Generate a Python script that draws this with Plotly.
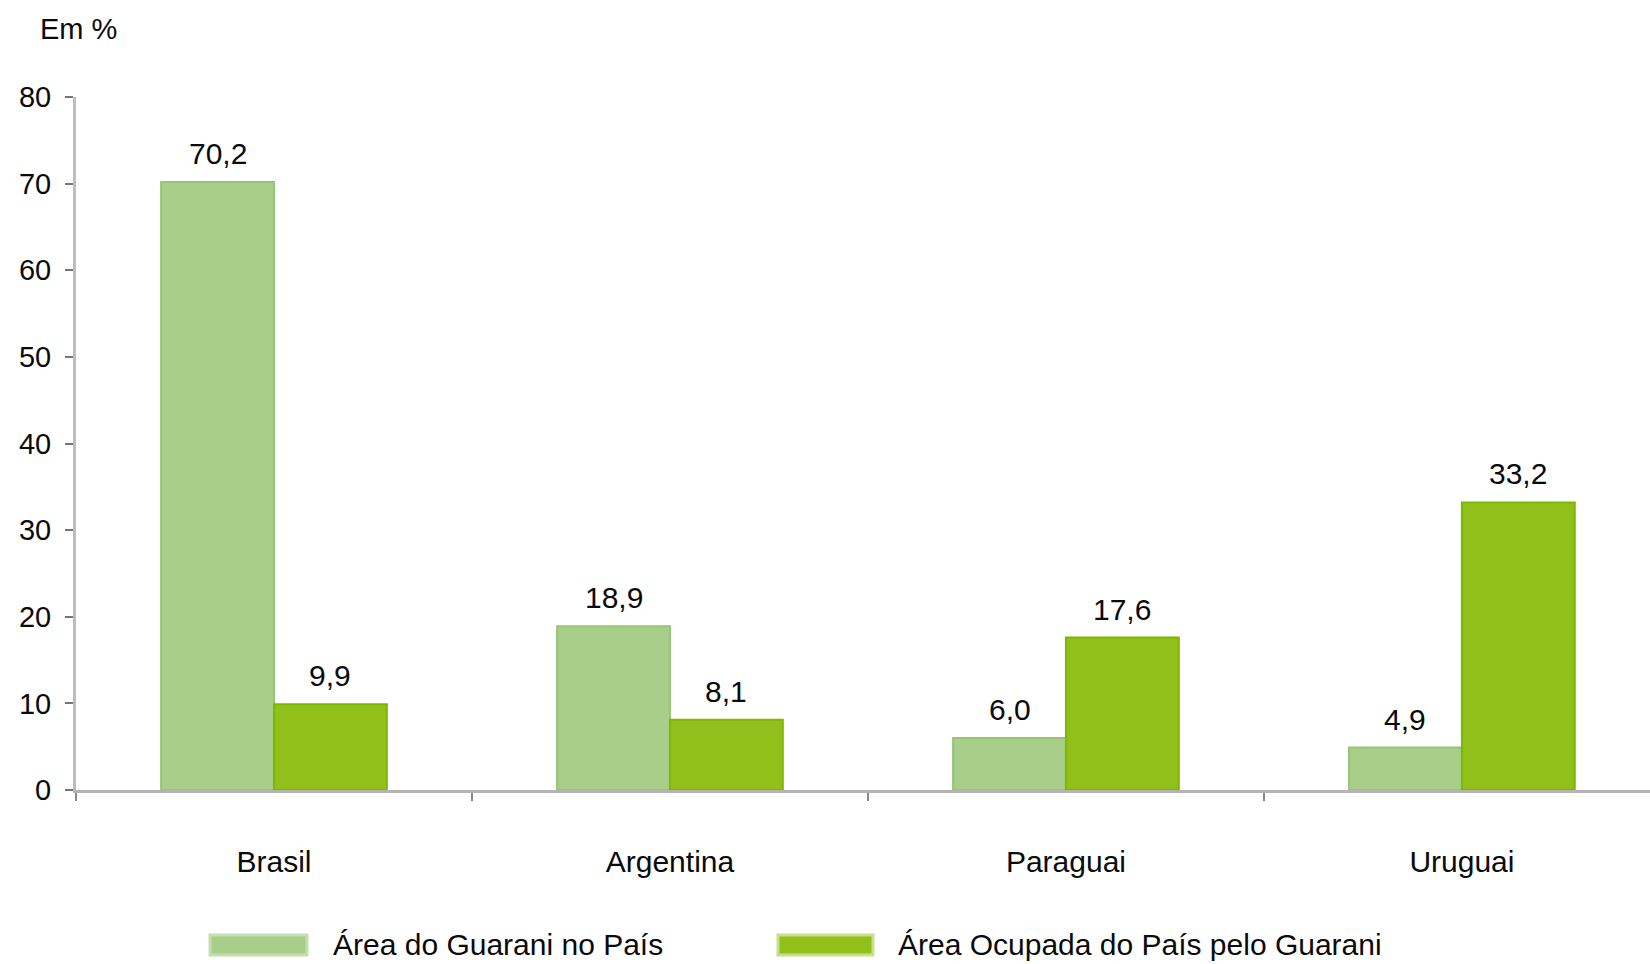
import plotly.graph_objects as go

countries = ["Brasil", "Argentina", "Paraguai", "Uruguai"]
series_names = ["Área do Guarani no País", "Área Ocupada do País pelo Guarani"]
area_guarani_no_pais = [70.2, 18.9, 6.0, 4.9]
area_ocupada_pais = [9.9, 8.1, 17.6, 33.2]
y_ticks = [0, 10, 20, 30, 40, 50, 60, 70, 80]

fills = ["#a8ce8a", "#92c01a"]
borders = ["#95c575", "#7fb600"]
legend_borders = ["#c3e0ad", "#c8e08a"]

FONT = "Liberation Sans, Arial, sans-serif"
TXT = "#0a0a0a"
W, H = 1650, 964
ML, MR, MT, MB = 76, 0, 97, 174
BARGAP = 0.43
XRANGE = [-0.5, 3.475]

pw = W - ML - MR
ph = H - MT - MB
cat_px = pw / (XRANGE[1] - XRANGE[0])
half_offset = cat_px * (1 - BARGAP) / 4

fig = go.Figure()
annotations = []
series = [area_guarani_no_pais, area_ocupada_pais]
for k, (name, vals, fc, bc) in enumerate(zip(series_names, series, fills, borders)):
    fig.add_trace(go.Bar(
        x=countries, y=vals, name=name,
        marker=dict(color=fc, line=dict(color=bc, width=2)),
        showlegend=False, hovertemplate="%{x}: %{y:.1f}<extra>" + name + "</extra>",
    ))
    shift = -half_offset if k == 0 else half_offset
    for c, v in zip(countries, vals):
        annotations.append(dict(x=c, y=v, xref="x", yref="y", xshift=shift, yshift=10,
                                yanchor="bottom", showarrow=False,
                                text=f"{v:.1f}".replace(".", ","),
                                font=dict(family=FONT, size=30, color=TXT)))

# custom legend (wide swatches as in reference)
def px_x(px):
    return (px - ML) / pw
def px_y(py):
    return (H - MB - py) / ph

sw = [(210, 307), (778, 873)]
tx = [331, 896]
shapes = []
for i, name in enumerate(series_names):
    shapes.append(dict(type="rect", xref="paper", yref="paper",
                       x0=px_x(sw[i][0]), x1=px_x(sw[i][1]),
                       y0=px_y(955), y1=px_y(935),
                       fillcolor=fills[i], line=dict(color=legend_borders[i], width=3)))
    annotations.append(dict(xref="paper", yref="paper", x=px_x(tx[i]), y=px_y(944),
                            xanchor="left", yanchor="middle", showarrow=False,
                            text=name, font=dict(family=FONT, size=30, color=TXT)))

fig.update_layout(
    width=W, height=H,
    margin=dict(l=ML, r=MR, t=MT, b=MB, pad=0),
    plot_bgcolor="white", paper_bgcolor="white",
    barmode="group", bargap=BARGAP, bargroupgap=0,
    separators=",.",
    font=dict(family=FONT, size=30, color=TXT),
    title=dict(text="Em %", xref="container", yref="container",
               x=40 / W, y=1 - 29 / H, xanchor="left", yanchor="middle",
               font=dict(family=FONT, size=29, color=TXT)),
    xaxis=dict(range=XRANGE, showline=True, linecolor="#b4b4b4", linewidth=3,
               ticks="outside", tickson="boundaries", ticklen=8, tickcolor="#888888", tickwidth=2,
               ticklabelstandoff=43, showgrid=False, zeroline=False,
               tickfont=dict(family=FONT, size=30, color=TXT)),
    yaxis=dict(range=[0, 80], tickvals=y_ticks, showline=True, linecolor="#bdbdbd", linewidth=3,
               ticks="outside", ticklen=8, tickcolor="#777777", tickwidth=2,
               ticklabelstandoff=8, showgrid=False, zeroline=False,
               tickfont=dict(family=FONT, size=29, color=TXT)),
    shapes=shapes, annotations=annotations,
)

fig.write_html("out.html", config={"displayModeBar": False},
               post_script="document.body.style.margin='0';document.body.style.overflow='hidden';")
